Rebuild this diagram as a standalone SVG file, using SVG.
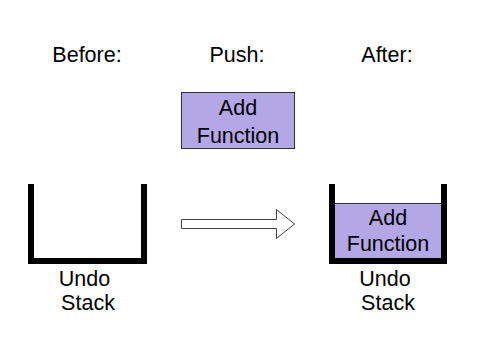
<svg xmlns="http://www.w3.org/2000/svg" width="481" height="343" viewBox="0 0 481 343">
  <style>
    text { font-family: "Liberation Sans", Arial, sans-serif; font-size: 21.5px; fill: #000; text-anchor: middle; }
    .wall { fill: none; stroke: #000; stroke-width: 6; stroke-linejoin: miter; stroke-linecap: butt; }
    .item { fill: #b4a7e5; stroke: #333; stroke-width: 1; }
    .arrow { fill: #fff; stroke: #444; stroke-width: 1; }
  </style>
  <rect width="481" height="343" fill="#fff"/>

  <!-- column headings -->
  <g id="headings">
    <text x="87" y="62">Before:</text>
    <text x="237" y="62">Push:</text>
    <text x="387" y="62">After:</text>
  </g>

  <!-- item being pushed -->
  <g id="push-item">
    <rect class="item" x="181.5" y="92.5" width="113" height="56"/>
    <text x="238" y="115">Add</text>
    <text x="238" y="143">Function</text>
  </g>

  <!-- empty stack -->
  <g id="stack-before">
    <path class="wall" d="M31 184 V261 H144 V184"/>
    <text x="84.5" y="285.5">Undo</text>
    <text x="88" y="310">Stack</text>
  </g>

  <!-- stack holding the pushed item -->
  <g id="stack-after">
    <rect class="item" x="334.5" y="203.5" width="107" height="55"/>
    <path class="wall" d="M332 184 V261 H444 V184"/>
    <text x="388" y="225">Add</text>
    <text x="388" y="251">Function</text>
    <text x="385" y="285.5">Undo</text>
    <text x="388" y="310">Stack</text>
  </g>

  <!-- block arrow from before to after -->
  <g id="connectors">
    <path class="arrow" d="M181.5 219.5 H276.5 V209.5 L294.5 224 L276.5 238.5 V228.5 H181.5 Z"/>
  </g>
</svg>
